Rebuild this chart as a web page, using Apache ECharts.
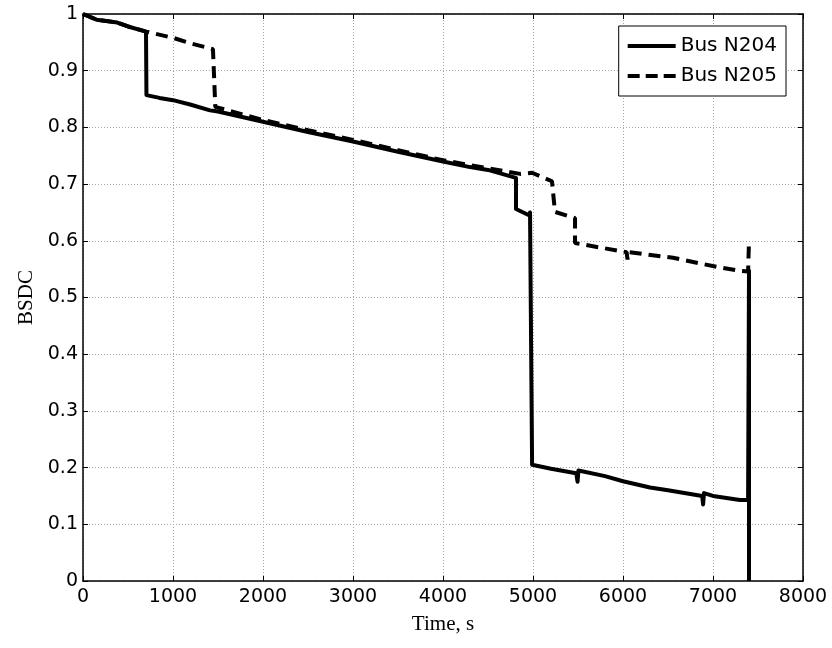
<!DOCTYPE html>
<html>
<head>
<meta charset="utf-8">
<script src="https://cdn.jsdelivr.net/npm/echarts@6/dist/echarts.min.js"></script>
<style>
  html, body { margin: 0; padding: 0; background: #fff; }
  #chart { width: 832px; height: 648px; }
</style>
</head>
<body>
<div id="chart"></div>
<script>
// Bus N204 (solid), [time s, BSDC]
const busN204 = [
  [0, 1.0], [150, 0.99], [380, 0.985], [500, 0.978], [700, 0.969],
  [705, 0.857], [850, 0.852], [1000, 0.848], [1200, 0.84], [1411, 0.83],
  [1500, 0.828], [2000, 0.81], [2500, 0.792], [3000, 0.775], [3500, 0.757],
  [4000, 0.74], [4300, 0.73], [4500, 0.725], [4811, 0.711],
  [4811, 0.656], [4956, 0.645], [4967, 0.65], [4990, 0.205],
  [5000, 0.203], [5200, 0.198], [5480, 0.19], [5495, 0.175], [5505, 0.195],
  [5800, 0.185], [6000, 0.176], [6300, 0.165], [6500, 0.16], [6880, 0.15],
  [6890, 0.135], [6900, 0.155], [7000, 0.15], [7300, 0.143], [7390, 0.143],
  [7400, 0.547], [7400, 0.0]
];

// Bus N205 (dashed)
const busN205 = [
  [0, 1.0], [150, 0.99], [380, 0.985], [500, 0.978], [700, 0.969],
  [1000, 0.958], [1200, 0.948], [1444, 0.938], [1470, 0.836],
  [1500, 0.835], [2000, 0.813], [2500, 0.795], [3000, 0.778], [3500, 0.76],
  [4000, 0.742], [4500, 0.728], [4856, 0.718], [4989, 0.72], [5211, 0.705],
  [5244, 0.651], [5467, 0.64], [5467, 0.596], [6000, 0.581], [6040, 0.58],
  [6050, 0.567], [6060, 0.58], [6556, 0.57], [7044, 0.554], [7300, 0.547],
  [7390, 0.546], [7400, 0.6]
];

const xTicks = { min: 0, max: 8000, interval: 1000 };
const yTicks = { min: 0, max: 1, interval: 0.1 };

const chart = echarts.init(document.getElementById('chart'));

const tickFont = { fontFamily: 'DejaVu Sans', fontSize: 19, color: '#000' };
const nameFont = { fontFamily: 'Liberation Serif', fontSize: 21, color: '#000' };
const gridLine = { show: true, lineStyle: { color: '#a8a8a8', type: [1, 2], width: 1 } };
const frame = { show: true, onZero: false, lineStyle: { color: '#000', width: 1.5 } };
const inTick = { show: true, inside: true, length: 5, lineStyle: { color: '#000' } };

// legend samples: a solid bar and three dashes
const solidIcon = 'path://M0,0h48v4h-48z';
const dashIcon = 'path://M0,0h12v4h-12z M18,0h12v4h-12z M36,0h12v4h-12z';

const option = {
  animation: false,
  backgroundColor: '#fff',
  grid: { left: 83, right: 29, top: 14, bottom: 67 },
  legend: {
    orient: 'vertical',
    right: 46, top: 26,
    backgroundColor: '#fff',
    borderColor: '#000', borderWidth: 1,
    padding: [9, 9, 9, 9],
    itemWidth: 48, itemHeight: 4, itemGap: 8,
    itemStyle: { color: '#000', borderWidth: 0 },
    textStyle: { fontFamily: 'DejaVu Sans', fontSize: 20, lineHeight: 22, color: '#000' },
    data: [
      { name: 'Bus N204', icon: solidIcon },
      { name: 'Bus N205', icon: dashIcon }
    ]
  },
  xAxis: [
    {
      type: 'value', min: xTicks.min, max: xTicks.max, interval: xTicks.interval,
      name: 'Time, s', nameLocation: 'middle', nameGap: 33, nameTextStyle: nameFont,
      axisLine: frame, axisTick: inTick,
      axisLabel: Object.assign({ margin: 7, formatter: v => String(v) }, tickFont),
      splitLine: gridLine
    },
    {
      type: 'value', position: 'top', min: xTicks.min, max: xTicks.max, interval: xTicks.interval,
      axisLine: frame, axisTick: inTick,
      axisLabel: { show: false }, splitLine: { show: false }
    }
  ],
  yAxis: [
    {
      type: 'value', min: yTicks.min, max: yTicks.max, interval: yTicks.interval,
      name: 'BSDC', nameLocation: 'middle', nameGap: 45, nameTextStyle: nameFont,
      axisLine: frame, axisTick: inTick,
      axisLabel: Object.assign({ margin: 5, formatter: v => String(+v.toFixed(1)) }, tickFont),
      splitLine: gridLine
    },
    {
      type: 'value', position: 'right', min: yTicks.min, max: yTicks.max, interval: yTicks.interval,
      axisLine: frame, axisTick: inTick,
      axisLabel: { show: false }, splitLine: { show: false }
    }
  ],
  series: [
    {
      name: 'Bus N204', type: 'line', data: busN204, showSymbol: false, symbol: 'none',
      lineStyle: { color: '#000', width: 4, join: 'round' },
      itemStyle: { color: '#000' }
    },
    {
      name: 'Bus N205', type: 'line', data: busN205, showSymbol: false, symbol: 'none',
      lineStyle: { color: '#000', width: 4, type: [12, 7] },
      itemStyle: { color: '#000' }
    }
  ]
};
chart.setOption(option);
</script>
</body>
</html>
